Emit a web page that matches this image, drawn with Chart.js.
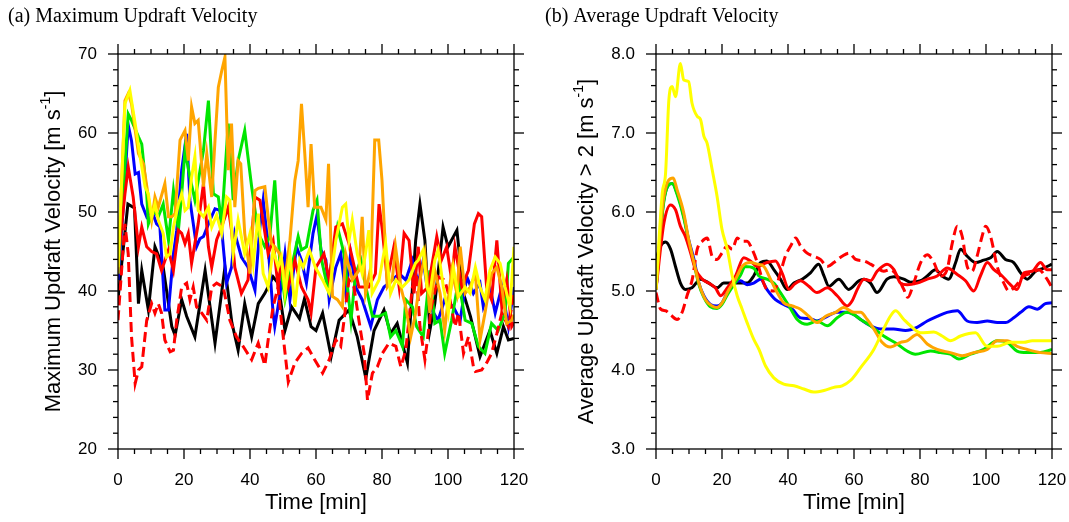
<!DOCTYPE html>
<html>
<head>
<meta charset="utf-8">
<script src="https://cdn.jsdelivr.net/npm/chart.js@4.4.1/dist/chart.umd.min.js"></script>
<style>
  body { margin: 0; background: #fff; }
  canvas { position: absolute; top: 0; }
  #maxChart { left: 0; }
  #avgChart { left: 535px; }
</style>
</head>
<body>
<canvas id="maxChart" width="534" height="522"></canvas>
<canvas id="avgChart" width="534" height="522"></canvas>
<script>
// (a) Maximum updraft velocity, [time (min), value (m/s)]
const blackMax = [[0,39],[1.5,45],[3,51],[5,50.5],[6.2,38.4],[7.2,42.6],[9.2,37.6],[11.2,45.6],[13.7,43],[16.3,35.5],[17.3,34.4],[19.3,38.9],[20.8,36.8],[23.3,34.2],[26.4,42.6],[29.4,33.4],[32.4,43],[34.5,36],[36.4,32.5],[38.4,38.4],[40.5,34.2],[42.5,38.4],[44.5,39.7],[47,41.8],[48.5,41],[50.6,35],[52.6,38],[55,36.5],[56.5,39],[58.5,35.5],[60,35],[62,37.2],[64.6,31.7],[67,36.3],[70,37.6],[72.5,34.2],[75.1,29],[77.6,35],[80.6,37.6],[82.6,34.6],[84.6,35.9],[87.7,30.9],[90.2,46.4],[91.5,51],[93,46.4],[94.5,35],[96,38.4],[98.5,48.1],[100,45.6],[102.7,47.7],[104.7,39.7],[106.8,36.8],[109.7,31.7],[112.7,35],[114.8,32.1],[116.8,35.5],[118.3,33.8],[120,34]];
const blueMax = [[0,41.4],[1.5,50],[3.1,61],[4.1,59],[5.2,54.8],[6.2,55],[7.2,51],[8.7,49.4],[10.2,50.2],[11.7,48.5],[12.7,48.1],[14.2,37.6],[15.3,37.6],[16.8,44.7],[17.8,47.7],[19.3,55.3],[20.8,59.9],[21.8,51.5],[23.8,45.6],[24.8,46.6],[25.9,46.9],[27.9,49],[29.4,50.4],[30.9,50.2],[32.9,41],[34.4,43],[35.4,47.3],[37.4,44.3],[39.4,43],[41.5,40.1],[43,48.1],[44,51.5],[45.5,45.6],[47,37.2],[47.5,35.5],[49,39.3],[50.6,44.7],[52.1,38.9],[54.1,45.6],[55.6,43.9],[57.1,41],[59.1,47.3],[60.3,49.6],[61.5,45.2],[63,43.9],[64,38.9],[66,43],[67.5,44.7],[69,39.7],[70.5,44.7],[72,40.5],[74,38.9],[76.6,35.5],[78.6,38.9],[80.6,40.5],[82.1,41],[85.2,42.2],[87.2,41.4],[89.2,43.9],[91,41],[92.5,43.9],[94.5,38],[97,36.3],[99,38.9],[101.6,38],[103.7,36.3],[105.7,41.8],[107.7,39.7],[109.7,41],[110.7,38],[112.7,40.5],[114.3,37.2],[116.3,40.5],[118.3,35.5],[120,40.5]];
const greenMax = [[0,42.2],[1.5,52],[3.1,62.4],[4.1,61.6],[6.2,59.5],[7.2,58.6],[8.7,52.3],[9.2,48.5],[10.7,50.2],[12.2,49.4],[13.7,51],[15.3,46.4],[16.8,52.7],[18.3,47.7],[19.3,52.3],[20.3,57.8],[21.8,54.4],[23.3,51.5],[25.9,57.8],[27.4,64.1],[28.9,52.3],[30.4,51.9],[31.4,48.5],[33.4,61.2],[34.9,51.5],[36.4,56.5],[38.4,60.3],[40.5,53.2],[42.5,47.3],[44.5,45.6],[46,46.9],[47.5,54],[49,43.9],[50.6,38.9],[52.6,43],[54.6,46.9],[55.6,45.2],[57.1,45.6],[59.1,50.2],[60.3,51.5],[61.7,43.9],[63.5,40.5],[66.5,48.1],[68.5,44.7],[70.6,36.3],[72,42.2],[73.6,43.9],[75.1,40.5],[77.1,36.8],[79.1,36.8],[81.1,37.2],[82.6,34.2],[84.2,35],[86.2,33],[87.2,38.9],[89.2,38],[90.5,35.5],[92.5,34.2],[94.5,42.6],[96,35.9],[97.6,36.3],[99,32.1],[101.1,36.3],[103.2,41.4],[105.2,36.3],[107.2,35.9],[109.2,33],[111.2,32.1],[113.2,35.9],[115.2,35],[117.3,37.2],[118.3,43.5],[120,44.3]];
const redMax = [[0,43.9],[2.1,52.3],[3.1,55.7],[4.6,51.9],[6.2,45.6],[7.2,48.1],[8.7,45.6],[10.2,45],[11.7,44.7],[13.2,42.6],[15.3,45.2],[16.8,42.6],[18.3,47.7],[19.3,47.3],[20.3,46],[21.3,47.3],[22.3,43.5],[24.3,48.5],[25.9,53.6],[27.4,45.6],[28.4,43],[29.9,46.5],[31.4,48.1],[33.4,50.6],[34.4,47.7],[35.4,43],[37.4,39.7],[39.4,41.4],[41.5,51.9],[43,51.5],[45.5,44.7],[47,46.4],[48.5,40.5],[49.5,43.9],[51.6,40.5],[53.6,43.9],[55.6,40.5],[57.6,38.9],[58.5,37.2],[60,43],[62.4,44.7],[64,41.4],[66,48.1],[68,48.5],[70,46],[73,40.5],[76,40.5],[78,42.2],[79.1,51],[80.1,47.7],[81.6,41.4],[83.6,45.6],[85.2,40.5],[86.7,47.3],[88.2,46.4],[89.7,39.7],[91,45.6],[92,39.7],[94,40.5],[96.6,46.9],[98,43.9],[99.6,45.6],[101.1,41.4],[102.1,45.6],[104.2,40.5],[106.2,42.6],[108,48.5],[109.2,49.8],[110.2,49.4],[111.7,40.5],[113.2,38.9],[114.8,46.4],[116.3,38],[117.8,41.4],[119.3,35.5],[120,36]];
const redDashMax = [[0,36.3],[1.6,45.6],[2.1,48.5],[3.1,44.7],[4.1,34.2],[5.2,28.3],[6.2,30],[7.2,30.4],[8.7,36.3],[10.2,38.4],[11.2,37.2],[12.2,38.4],[13.2,37.2],[14.2,33.8],[15.8,32.3],[16.8,32.5],[17.8,36.3],[19.3,40.5],[20.8,41],[21.8,38.9],[22.8,40.5],[23.8,38],[25.4,37.2],[26.9,36.3],[28.4,40.5],[29.9,41],[31.9,40.5],[33.9,36.3],[35.9,34.2],[37.9,33],[40.5,31.3],[42.5,33.4],[44.5,30.6],[45.5,33.8],[47,38],[48.5,40.5],[49.5,36.3],[51.6,28.5],[53.6,30.9],[55.6,32.1],[57.6,32.8],[59.6,31.3],[62,29.6],[64,31.3],[66,33.8],[67.5,33],[68.5,36.3],[70,41.4],[71.5,40.5],[73,36.3],[74.6,32.1],[75.6,26.2],[77.1,29.6],[78.6,30.4],[80.1,32.1],[82.1,33.4],[84.2,33],[85.7,30.4],[87.2,32.5],[89.2,40.5],[90.5,42],[91.5,35.5],[93,31.3],[95,38],[97,41.8],[99,41.4],[100.6,38.9],[102.1,35.5],[103.2,37.2],[104.7,32.1],[106.2,34.2],[107.7,30.4],[108.3,29.8],[110.2,30],[111.7,30.9],[113.2,32.1],[114.8,34.6],[116.3,37.2],[118.3,35.5],[120,39.7]];
const orangeMax = [[0,42.2],[2.1,64.1],[3.1,65],[4.1,63.7],[6.2,57.4],[7.7,56.1],[9.2,51.9],[10.2,49],[11.2,51.9],[12.2,50.6],[14.2,53.6],[15.3,49.4],[16.3,49.4],[17.3,49.8],[18.8,59.1],[20.3,60.3],[21.3,56.5],[22.3,63.3],[23.3,61.2],[24.3,61.6],[25.9,53.2],[26.9,57.4],[28.4,51.9],[29.4,59.1],[30.4,65.8],[31.5,68],[32.4,69.6],[33.4,55.3],[34.4,61.2],[35.4,50.6],[36.4,56.5],[37.2,56.1],[38.4,47.3],[40,42.2],[41.5,52.7],[42.5,53],[44.5,53.2],[45.5,49.4],[46.5,46],[47.5,45.6],[49,44.7],[50.6,41.4],[52.1,46.4],[53.6,54],[54.6,56.5],[55.6,63.7],[56.6,57.4],[57.6,50.6],[58.5,58.6],[59.6,50.6],[61.5,50.6],[63,49],[63.8,56.1],[65,39.3],[66.5,38.9],[68,38],[69,44.7],[71,41.4],[73,42.6],[74,49.4],[75,39.7],[76.6,43],[77.8,59.1],[79,59.1],[80,54],[81.6,40.5],[83.1,41.4],[84.1,45.6],[85.7,40.5],[87.2,38],[88.7,34.2],[90.1,37],[91.5,41.4],[93,44.7],[94.5,37.2],[96,42.6],[97.6,39.7],[99,35],[101.1,42.6],[102.7,39.7],[103.7,45.6],[105.2,39.7],[106.7,40.5],[108.3,42.2],[109.7,33.8],[111.2,37.2],[113.2,42.2],[114.8,43],[116.3,40.5],[117.8,35.9],[119.3,36.3],[120,37]];
const yellowMax = [[0,43],[2.1,63.7],[3.6,65.4],[5.2,61.2],[6.7,57],[8.2,53.2],[9.2,52.3],[10.2,49.4],[11.2,51],[12.2,49],[13.7,47.3],[14.7,44.3],[15.8,44.7],[16.8,48.1],[18.3,51],[19.3,52.3],[20.3,50.2],[21.3,50.6],[22.3,54.4],[23.3,57],[24.3,50.2],[25.9,49.4],[27.4,50.6],[28.4,48.1],[29.9,49.6],[31.4,47.3],[32.9,51.9],[33.9,51.5],[34.9,44.7],[36.4,49],[38.4,44.7],[40,47.3],[41,43.5],[42.5,49.8],[44,42.2],[45.5,40.5],[47,45.2],[48.5,43],[49.5,44.3],[50.6,39.7],[52.1,44.7],[53.6,38],[55.1,43.9],[56.1,43],[58,45.2],[59.8,43],[62,41.4],[64,39.7],[66,46.4],[68,50.6],[69,51],[70,46.4],[71,49],[72.5,44.7],[74,42.2],[75,44.7],[76,47.7],[77,39.7],[79.1,41.4],[81.1,46],[82.6,39.7],[84.2,41.4],[86.2,40.5],[88.2,41.4],[90.1,43.5],[91,43.9],[92.5,45.2],[93.6,40.5],[94.5,39.7],[96,43.9],[97,45.2],[98.6,40.5],[100.1,37.2],[101.6,43],[103.2,39.3],[105.2,40.5],[106.7,39.7],[108.3,43],[109.7,40.5],[111.2,38.9],[112.7,42.6],[114.3,44.3],[115.8,43.5],[117.3,40.5],[118.8,38],[120,45.6]];

// (b) Average updraft velocity > 2 m/s, [time (min), value (m/s)]
const blackAvg = [[0,5.4],[1.4,5.57],[2.9,5.62],[4.4,5.53],[5.9,5.31],[7.4,5.1],[8.9,5.02],[10.9,5.04],[13.5,5.15],[16,5.1],[18.5,5.04],[20.5,5.1],[22.6,5.1],[25.1,5.1],[27.6,5.1],[29.6,5.19],[31.7,5.36],[33.6,5.38],[35.7,5.27],[37.7,5.15],[39.7,5.02],[41.8,5.1],[44.3,5.15],[46.8,5.23],[49.3,5.34],[50.9,5.19],[52.4,5.06],[55.4,5.15],[58.4,5.02],[61.5,5.13],[63,5.15],[65,5.1],[67,4.98],[70,5.15],[72.1,5.18],[75.1,5.15],[77.1,5.11],[80.2,5.13],[82.2,5.19],[84.7,5.27],[86.7,5.19],[88.7,5.15],[90.8,5.36],[92.3,5.53],[94.3,5.44],[96.8,5.36],[99.3,5.39],[101.4,5.42],[103.4,5.5],[105.9,5.4],[108.4,5.36],[110.5,5.23],[112.5,5.15],[115,5.25],[117.5,5.29],[120,5.34]];
const blueAvg = [[0,5.02],[2.4,6.16],[4.9,6.36],[6.4,6.24],[8.4,5.95],[9.9,5.65],[11.5,5.4],[13,5.1],[14.5,4.94],[16.5,4.83],[18.5,4.81],[20,4.85],[21.6,4.98],[23.6,5.1],[25.6,5.13],[27.6,5.08],[29.6,5.1],[31.7,5.15],[33.6,5.02],[36.2,4.89],[38.7,4.83],[41.3,4.77],[43.8,4.66],[46.8,4.65],[48.8,4.62],[51.9,4.68],[54.9,4.73],[57.9,4.73],[60,4.7],[62,4.64],[65,4.56],[68,4.52],[72,4.52],[75.6,4.5],[79.1,4.54],[82.2,4.62],[85.2,4.68],[88.2,4.73],[91.3,4.75],[94.3,4.62],[97.3,4.6],[100.4,4.62],[103.4,4.6],[105.9,4.6],[108.4,4.66],[110.5,4.73],[113,4.8],[115.5,4.77],[118,4.84],[120,4.85]];
const greenAvg = [[0,5.02],[2.4,6.14],[4.9,6.36],[6.4,6.22],[8.4,5.93],[9.9,5.63],[11.5,5.35],[13,5.08],[14.5,4.92],[16.5,4.8],[18.5,4.78],[20,4.83],[21.6,4.95],[23.6,5.08],[25.6,5.2],[27,5.31],[29.6,5.29],[31.2,5.19],[33.6,5.15],[35.7,5.1],[37.7,4.98],[40.3,4.81],[42.8,4.64],[45.8,4.58],[48.8,4.62],[51.9,4.56],[54.9,4.66],[57.9,4.73],[60,4.7],[62,4.64],[65,4.56],[69,4.43],[73.1,4.33],[76.1,4.24],[78.6,4.2],[83.2,4.24],[86.2,4.22],[89.2,4.2],[91.8,4.14],[95.3,4.2],[99.3,4.26],[103.4,4.37],[106.4,4.35],[109.4,4.24],[112.5,4.22],[116.5,4.22],[120,4.26]];
const redAvg = [[0,5.02],[2.4,5.86],[4.4,6.09],[5.9,6.03],[7.4,5.82],[8.9,5.69],[10.5,5.48],[12,5.27],[14,5.15],[16,5.1],[18,5.04],[19.6,4.94],[21.6,5.04],[24.1,5.19],[26.6,5.42],[28.6,5.38],[30.7,5.31],[33.6,5.36],[36.2,5.38],[38.2,5.23],[40.3,5.02],[41.8,5.08],[43.8,5.13],[46.3,5.06],[48.8,4.98],[51.9,5.04],[54.9,4.94],[57.9,4.81],[59.5,4.88],[61,5.02],[63,5.15],[65,5.13],[67,5.25],[70,5.34],[72.1,5.27],[74.1,5.1],[76.1,5.08],[79.1,5.1],[82.2,5.15],[85.2,5.19],[88.2,5.29],[91.3,5.21],[93.8,5.13],[96.3,5.0],[98.3,5.19],[100.4,5.36],[102.4,5.27],[104.9,5.19],[106.9,5.1],[109.4,5.02],[111.5,5.23],[114,5.25],[116.5,5.36],[118.5,5.27],[120,5.27]];
const redDashAvg = [[0,4.98],[1.4,4.77],[2.9,4.75],[4.4,4.7],[6.4,4.64],[7.9,4.73],[9.4,4.94],[11,5.15],[12.5,5.53],[14,5.63],[15.5,5.67],[17,5.44],[18.5,5.4],[20,5.48],[21.6,5.57],[23.1,5.53],[24.6,5.67],[26.1,5.63],[27.6,5.63],[29.1,5.53],[30.7,5.36],[32.2,5.15],[33.6,5.02],[35.7,5.0],[37.7,5.23],[39.2,5.44],[40.8,5.57],[42.3,5.67],[43.8,5.57],[45.8,5.48],[47.8,5.44],[49.8,5.4],[51.9,5.31],[53.9,5.36],[56.4,5.44],[58.5,5.48],[60.5,5.4],[63,5.38],[65,5.34],[67,5.29],[69,5.25],[71,5.27],[73.1,5.19],[75.1,5.02],[76.3,4.92],[78.1,5.1],[80.2,5.36],[82.2,5.46],[84.2,5.36],[86.2,5.19],[88.2,5.27],[89.8,5.61],[91.3,5.82],[92.8,5.69],[94.3,5.31],[95.8,5.25],[97.3,5.44],[98.8,5.69],[99.9,5.82],[101.4,5.69],[103.4,5.31],[105.4,5.1],[106.9,5.0],[108.9,5.06],[111.5,5.19],[114,5.23],[116,5.27],[118.5,5.15],[120,5.04]];
const orangeAvg = [[0,5.02],[2.4,6.2],[5.2,6.43],[6.4,6.28],[8.4,5.99],[9.9,5.65],[11.5,5.36],[13,5.1],[15,4.89],[17,4.81],[18.5,4.79],[20,4.85],[22.1,5.02],[24.1,5.15],[26.1,5.31],[28.6,5.36],[30.7,5.34],[32.7,5.31],[34.7,5.15],[36.7,4.98],[38.7,4.85],[41.3,4.81],[43.8,4.77],[46.3,4.68],[48.8,4.6],[51.4,4.68],[54.4,4.73],[56.9,4.79],[60,4.73],[62,4.73],[64,4.64],[66,4.52],[68.5,4.35],[71,4.29],[74.1,4.35],[76.1,4.37],[79.1,4.45],[82.2,4.33],[85.2,4.26],[89.2,4.22],[92.8,4.18],[96.3,4.22],[100.4,4.26],[103.4,4.37],[106.4,4.37],[109.4,4.3],[112.5,4.26],[116.5,4.22],[120,4.21]];
const yellowAvg = [[0,5.02],[1.9,6.24],[2.9,6.49],[3.9,7.42],[4.9,7.59],[5.9,7.46],[7.4,7.88],[8.4,7.67],[9.9,7.65],[10.9,7.38],[12.5,7.21],[13.5,7.17],[14.5,6.96],[15.5,6.87],[17,6.54],[18.5,6.2],[20,5.78],[21.6,5.53],[23.1,5.19],[24.6,4.94],[26.1,4.77],[27.6,4.6],[29.6,4.39],[31.2,4.26],[33.2,4.05],[35.7,3.9],[38.7,3.82],[41.8,3.8],[44.8,3.76],[47.8,3.72],[50.9,3.74],[53.9,3.78],[56.4,3.8],[59,3.87],[62,4.03],[66,4.26],[69,4.52],[71,4.68],[72.6,4.75],[75.1,4.64],[77.1,4.56],[80.2,4.47],[84.2,4.48],[86.7,4.43],[89.2,4.37],[92.3,4.43],[96.8,4.47],[100.3,4.3],[103.4,4.3],[107.4,4.35],[111.5,4.35],[114,4.37],[120,4.37]];

const timeTicks = [0, 20, 40, 60, 80, 100, 120];

const seriesColors = ['#000000', '#0000ff', '#00e600', '#ff0000', '#ff0000', '#ffa500', '#ffff00'];
const seriesDash = [[], [], [], [], [10, 5], [], []];

const sans = '"Liberation Sans", Arial, Helvetica, sans-serif';
const serif = '"Liberation Serif", "Times New Roman", serif';

// frame, outward ticks on all four sides, titles
const framePlugin = {
    id: 'frame',
    afterDraw(chart, args, o) {
        const ctx = chart.ctx;
        const a = chart.chartArea;
        const xs = chart.scales.x, ys = chart.scales.y;
        ctx.save();
        ctx.strokeStyle = '#000';
        ctx.lineWidth = 1.3;
        ctx.strokeRect(a.left, a.top, a.right - a.left, a.bottom - a.top);
        const seg = (x1, y1, x2, y2) => { ctx.beginPath(); ctx.moveTo(x1, y1); ctx.lineTo(x2, y2); ctx.stroke(); };
        const isMajor = (v, step) => Math.abs(v / step - Math.round(v / step)) < 1e-6;
        const nx = Math.round((xs.max - xs.min) / o.xMinor);
        for (let i = 0; i <= nx; i++) {
            const v = xs.min + i * o.xMinor;
            const px = xs.getPixelForValue(v);
            const len = isMajor(v, o.xMajor) ? 10 : 5;
            seg(px, a.bottom, px, a.bottom + len);
            seg(px, a.top, px, a.top - len);
        }
        const ny = Math.round((ys.max - ys.min) / o.yMinor);
        for (let i = 0; i <= ny; i++) {
            const v = ys.min + i * o.yMinor;
            const py = ys.getPixelForValue(v);
            const len = isMajor(v - ys.min, o.yMajor) ? 10 : 5;
            seg(a.left, py, a.left - len, py);
            seg(a.right, py, a.right + len, py);
        }

        // panel title
        ctx.fillStyle = '#000';
        ctx.font = '20px ' + serif;
        ctx.textAlign = 'left';
        ctx.textBaseline = 'middle';
        ctx.fillText(o.title, o.titleX, 17);

        // x axis title
        ctx.font = '22px ' + sans;
        ctx.textAlign = 'center';
        ctx.fillText('Time [min]', (a.left + a.right) / 2, 503);

        // y axis title with superscript
        const main = o.yTitle + ' [m s';
        const sup = '-1';
        const tail = ']';
        ctx.font = '22px ' + sans;
        const w1 = ctx.measureText(main).width;
        const w3 = ctx.measureText(tail).width;
        ctx.font = '14px ' + sans;
        const w2 = ctx.measureText(sup).width;
        const total = w1 + w2 + w3;
        ctx.translate(o.yTitleX, (a.top + a.bottom) / 2);
        ctx.rotate(-Math.PI / 2);
        ctx.textAlign = 'left';
        ctx.textBaseline = 'middle';
        let x0 = -total / 2;
        ctx.font = '22px ' + sans;
        ctx.fillText(main, x0, 0);
        x0 += w1;
        ctx.font = '14px ' + sans;
        ctx.fillText(sup, x0, -8);
        x0 += w2;
        ctx.font = '22px ' + sans;
        ctx.fillText(tail, x0, 0);
        ctx.restore();
    }
};

function buildDatasets(list, tension) {
    return list.map((pts, i) => ({
        data: pts.map(([t, v]) => ({ x: t, y: v })),
        borderColor: seriesColors[i],
        borderWidth: 3,
        borderDash: seriesDash[i],
        pointRadius: 0,
        tension: tension,
        cubicInterpolationMode: tension > 0 ? 'monotone' : 'default',
        order: list.length - i
    }));
}

function makeChart(id, list, cfg) {
    return new Chart(document.getElementById(id), {
        type: 'line',
        data: { datasets: buildDatasets(list, cfg.tension) },
        options: {
            responsive: false,
            animation: false,
            layout: { padding: { top: 54, right: cfg.padRight, left: 0, bottom: 0 } },
            plugins: {
                legend: { display: false },
                tooltip: { enabled: false },
                frame: cfg.frame
            },
            scales: {
                x: {
                    type: 'linear',
                    min: 0,
                    max: 120,
                    afterFit: (s) => { s.height = 73; s.paddingLeft = 0; s.paddingRight = 0; },
                    afterBuildTicks: (s) => { s.ticks = timeTicks.map(v => ({ value: v })); },
                    grid: { display: false, drawTicks: false },
                    border: { display: false },
                    ticks: { color: '#000', padding: 21, maxRotation: 0, font: { family: sans, size: 17 } }
                },
                y: {
                    type: 'linear',
                    min: cfg.yMin,
                    max: cfg.yMax,
                    afterFit: (s) => { s.width = cfg.areaLeft; s.paddingTop = 0; s.paddingBottom = 0; },
                    ticks: {
                        stepSize: cfg.frame.yMajor,
                        color: '#000',
                        padding: 21,
                        font: { family: sans, size: 17 },
                        callback: (v) => v.toFixed(cfg.decimals)
                    },
                    grid: { display: false, drawTicks: false },
                    border: { display: false }
                }
            }
        },
        plugins: [framePlugin]
    });
}

makeChart('maxChart', [blackMax, blueMax, greenMax, redMax, redDashMax, orangeMax, yellowMax], {
    yMin: 20, yMax: 70, decimals: 0, tension: 0, areaLeft: 118, padRight: 20,
    frame: { xMajor: 20, xMinor: 5, yMajor: 10, yMinor: 2, title: '(a) Maximum Updraft Velocity', titleX: 8, yTitle: 'Maximum Updraft Velocity', yTitleX: 54 }
});

makeChart('avgChart', [blackAvg, blueAvg, greenAvg, redAvg, redDashAvg, orangeAvg, yellowAvg], {
    yMin: 3, yMax: 8, decimals: 1, tension: 0.4, areaLeft: 121, padRight: 17,
    frame: { xMajor: 20, xMinor: 5, yMajor: 1, yMinor: 0.2, title: '(b) Average Updraft Velocity', titleX: 10, yTitle: 'Average Updraft Velocity > 2', yTitleX: 52 }
});
</script>
</body>
</html>
